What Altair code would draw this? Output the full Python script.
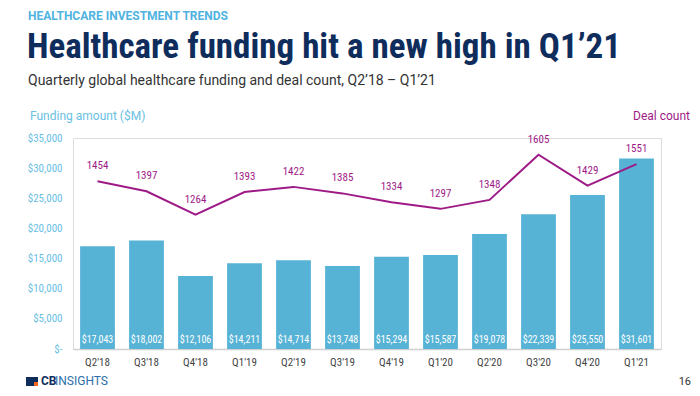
import altair as alt
import pandas as pd

quarters = ["Q2'18", "Q3'18", "Q4'18", "Q1'19", "Q2'19", "Q3'19", "Q4'19", "Q1'20", "Q2'20", "Q3'20", "Q4'20", "Q1'21"]
funding = [17043, 18002, 12106, 14211, 14714, 13748, 15294, 15587, 19078, 22339, 25550, 31601]
deals = [1454, 1397, 1264, 1393, 1422, 1385, 1334, 1297, 1348, 1605, 1429, 1551]

df = pd.DataFrame({"q": quarters, "funding": funding, "deals": deals})
df["flabel"] = ["$" + f"{v:,}" for v in funding]

FONT = "Roboto"
NARROW = "Roboto Condensed, Liberation Sans Narrow, Roboto"
BAR = "#57b3d6"
LINE = "#9e1a87"
LBLUE = "#69c0e3"
NAVY = "#0f2d5c"

W, H = 588, 211

xenc = alt.X("q:N", sort=quarters, title=None,
             scale=alt.Scale(paddingInner=0.29, paddingOuter=0.145),
             axis=alt.Axis(labelAngle=0, labelColor="#444", labelFontSize=11, labelFont=NARROW,
                           domainColor="#d0d0d0", domainWidth=1.5, ticks=False, labelPadding=7))

bars = alt.Chart(df).mark_bar(color=BAR).encode(
    x=xenc,
    y=alt.Y("funding:Q", title=None, scale=alt.Scale(domain=[0, 35000]),
            axis=alt.Axis(values=list(range(0, 35001, 5000)), domain=False, ticks=False, grid=False,
                          labelColor=LBLUE, labelFontSize=11, labelFont=NARROW, labelPadding=11,
                          labelExpr="datum.value == 0 ? '$-' : '$' + format(datum.value, ',')")),
)

barlabels = alt.Chart(df).mark_text(color="white", fontSize=10, font=NARROW, baseline="middle").encode(
    x=alt.X("q:N", sort=quarters),
    y=alt.value(202),
    text="flabel:N",
)

line = alt.Chart(df).mark_line(color=LINE, strokeWidth=2).encode(
    x=alt.X("q:N", sort=quarters),
    y=alt.Y("deals:Q", title=None, scale=alt.Scale(domain=[500, 1700]),
            axis=alt.Axis(orient="right", values=list(range(500, 1701, 200)), domain=False, ticks=False,
                          grid=False, labelColor="#b5399f", labelFontSize=11, labelFont=NARROW, labelPadding=5)),
)

linelabels = alt.Chart(df).mark_text(color=LINE, fontSize=11, font=NARROW, dy=-15).encode(
    x=alt.X("q:N", sort=quarters),
    y=alt.Y("deals:Q", scale=alt.Scale(domain=[500, 1700]), axis=None),
    text="deals:Q",
)

def txt(s, x, y, size, color, weight="normal", align="left", font=FONT):
    return alt.Chart(pd.DataFrame({"t": [s]})).mark_text(
        align=align, baseline="middle", fontSize=size, color=color, fontWeight=weight, font=font
    ).encode(x=alt.value(x), y=alt.value(y), text="t:N")

annos = [
    txt("HEALTHCARE INVESTMENT TRENDS", -45, -122, 12, "#4fb3df", "bold"),
    txt("Healthcare funding hit a new high in Q1\u201921", -46, -91, 35, NAVY, "bold", font=NARROW),
    txt("Quarterly global healthcare funding and deal count, Q2\u201918 \u2013 Q1\u201921", -45, -57, 14, "#333333"),
    txt("Funding amount ($M)", -43, -22, 12, LBLUE),
    txt("Deal count", 617, -22, 12, LINE, align="right"),
    txt("CB", -32, 243, 12, NAVY, "bold"),
    txt("INSIGHTS", -18, 243, 12, "#2c6fa8"),
    txt("16", 618, 244, 11, "#333333", align="right"),
]

logo1 = alt.Chart(pd.DataFrame({"a": [0]})).mark_rect(color=NAVY).encode(
    x=alt.value(-47), x2=alt.value(-35), y=alt.value(239), y2=alt.value(248))
logo2 = alt.Chart(pd.DataFrame({"a": [0]})).mark_rect(color="#f26522").encode(
    x=alt.value(-39), x2=alt.value(-35), y=alt.value(244), y2=alt.value(248))

left = alt.layer(bars, barlabels)
right = alt.layer(line, linelabels)

chart = alt.layer(left, right, logo1, logo2, *annos).resolve_scale(y="independent").properties(
    width=W, height=H,
    autosize=alt.AutoSizeParams(type="none"),
    padding={"left": 65, "top": 130, "right": 31, "bottom": 39},
).configure_view(stroke=None).configure(background="white")

chart.save("out.html", embed_options={"renderer": "svg", "actions": False})
